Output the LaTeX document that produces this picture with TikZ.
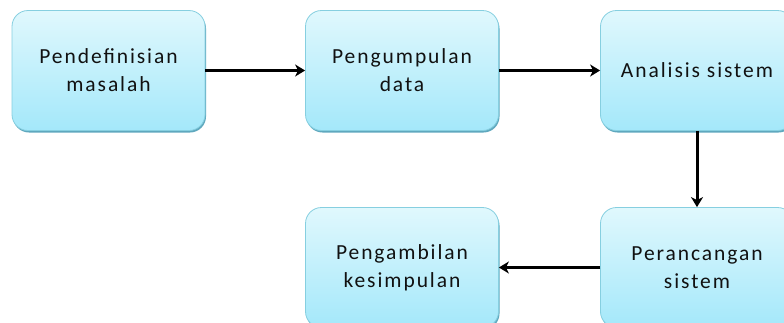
\documentclass[tikz,border=0pt]{standalone}
\usepackage{fontspec}
\setmainfont{Carlito}[LetterSpace=9]
\usetikzlibrary{arrows.meta,shadows}
\definecolor{boxtop}{HTML}{E0F8FD}
\definecolor{boxbot}{HTML}{A4E8FA}
\definecolor{boxline}{HTML}{86CFE0}
\definecolor{boxshadow}{HTML}{5FA8BE}
\definecolor{txt}{HTML}{111111}
\tikzset{
  stepbox/.style={draw=boxline, line width=0.8pt, rectangle, rounded corners=16pt,
    top color=boxtop, bottom color=boxbot, minimum width=193pt, minimum height=120pt,
    align=center, font=\fontsize{21.5}{28}\selectfont, text=txt,
    drop shadow={shadow xshift=1pt, shadow yshift=-2pt, fill=boxshadow, opacity=1}},
  conn/.style={line width=3pt, -{Stealth[length=10pt,width=12pt,inset=3pt]}}
}
\begin{document}
\begin{tikzpicture}[x=1pt,y=-1pt]
\useasboundingbox (0,0) rectangle (784,322);
\clip (0,0) rectangle (784,322);
\node[stepbox] (b1) at (108.5,70.5) {Pendefinisian\\masalah};
\node[stepbox] (b2) at (402,70.5) {Pengumpulan\\data};
\node[stepbox] (b3) at (697,70.5) {Analisis sistem};
\node[stepbox] (b4) at (697,267.5) {Perancangan\\sistem};
\node[stepbox] (b5) at (402,267.5) {Pengambilan\\kesimpulan};
\draw[conn] (b1) -- (b2);
\draw[conn] (b2) -- (b3);
\draw[conn] (b3) -- (b4);
\draw[conn] (b4) -- (b5);
\end{tikzpicture}
\end{document}
